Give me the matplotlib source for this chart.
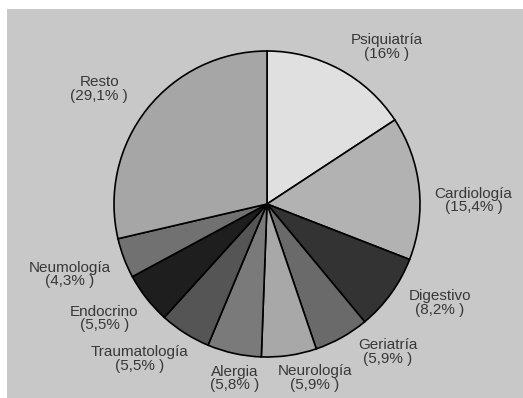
import matplotlib
matplotlib.use("Agg")
import matplotlib.pyplot as plt
from matplotlib.patches import Rectangle
import numpy as np

categories = ["Psiquiatría", "Cardiología", "Digestivo", "Geriatría", "Neurología",
              "Alergia", "Traumatología", "Endocrino", "Neumología", "Resto"]
values = [16, 15.4, 8.2, 5.9, 5.9, 5.8, 5.5, 5.5, 4.3, 29.1]
value_labels = ["16%", "15,4%", "8,2%", "5,9%", "5,9%", "5,8%", "5,5%", "5,5%", "4,3%", "29,1%"]
colors = ["#e0e0e0", "#b2b2b2", "#333333", "#6a6a6a", "#a8a8a8",
          "#7a7a7a", "#555555", "#1e1e1e", "#717171", "#a6a6a6"]

W, H = 523, 398
fig = plt.figure(figsize=(W / 100, H / 100), dpi=100)
fig.patch.set_facecolor("white")
bg = Rectangle((7 / W, 0), 1, (H - 9) / H, transform=fig.transFigure,
               facecolor="#c9c8c9", edgecolor="none", zorder=-10)
fig.add_artist(bg)

r = 153
cx, cy = 267, 204
ax = fig.add_axes([(cx - r) / W, (H - cy - r) / H, 2 * r / W, 2 * r / H])
ax.set_zorder(5)
ax.set_facecolor("none")

wedges, _ = ax.pie(values, colors=colors, startangle=90, counterclock=False,
                   radius=1.0, wedgeprops=dict(edgecolor="black", linewidth=1.2))
ax.set_xlim(-1, 1)
ax.set_ylim(-1, 1)
ax.set_aspect("auto")
ax.axis("off")

# label radial distance and angular nudge (degrees) per slice
label_dist = [1.29, 1.35, 1.30, 1.25, 1.18, 1.16, 1.31, 1.30, 1.37, 1.33]
label_shift = [9, 5, -6, -10, -7, -2, 7, 3, 1, -4]

total = sum(values)
cum = 0
for name, v, lab, d, s in zip(categories, values, value_labels, label_dist, label_shift):
    mid = (cum + v / 2) / total * 360 + s
    cum += v
    th = np.deg2rad(90 - mid)
    ax.text(d * np.cos(th), d * np.sin(th), f"{name}\n({lab} )", ha="center", va="center",
            fontsize=11, color="#383838", family="Liberation Sans", linespacing=0.95,
            clip_on=False)

fig.savefig("out.png", dpi=100)
